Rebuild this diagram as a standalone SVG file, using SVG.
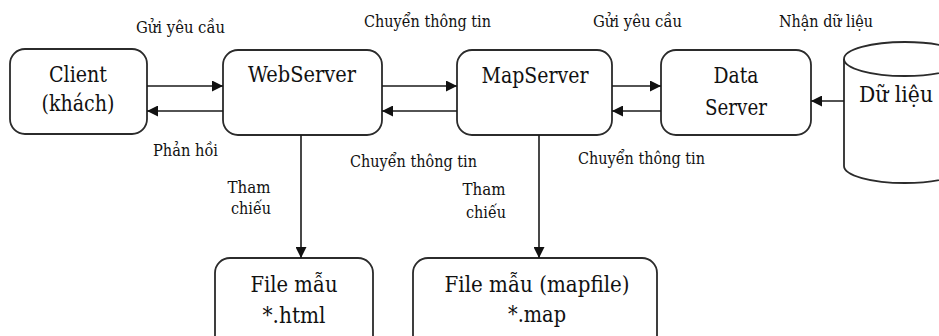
<svg xmlns="http://www.w3.org/2000/svg" width="939" height="336" viewBox="0 0 939 336">
  <style>
    .box { fill: #ffffff; stroke: #2b2b2b; stroke-width: 1.8; }
    .big { font-family: 'DejaVu Serif', serif; font-size: 21.5px; fill: #111; text-anchor: middle; }
    .lbl { font-family: 'DejaVu Serif', serif; font-size: 16px; fill: #111; }
    .mid { text-anchor: middle; }
    .conn { stroke: #1a1a1a; stroke-width: 1.6; fill: none; marker-end: url(#head); }
  </style>
  <defs>
    <marker id="head" markerUnits="userSpaceOnUse" markerWidth="11" markerHeight="11" refX="11" refY="5.5" orient="auto">
      <path d="M0,0 L11,5.5 L0,11 Z" fill="#111"/>
    </marker>
  </defs>

  <rect width="939" height="336" fill="#ffffff"/>

  <!-- Nodes -->
  <g id="client">
    <rect class="box" x="10" y="49" width="137" height="85" rx="15"/>
    <text class="big" x="78" y="82" textLength="58" lengthAdjust="spacingAndGlyphs">Client</text>
    <text class="big" x="78" y="111" textLength="73" lengthAdjust="spacingAndGlyphs">(khách)</text>
  </g>

  <g id="webserver">
    <rect class="box" x="223" y="50" width="159" height="85" rx="15"/>
    <text class="big" x="302" y="82" textLength="108" lengthAdjust="spacingAndGlyphs">WebServer</text>
  </g>

  <g id="mapserver">
    <rect class="box" x="457" y="50" width="155" height="85" rx="15"/>
    <text class="big" x="535" y="83" textLength="107" lengthAdjust="spacingAndGlyphs">MapServer</text>
  </g>

  <g id="dataserver">
    <rect class="box" x="661" y="50" width="150" height="85" rx="15"/>
    <text class="big" x="736" y="83" textLength="45" lengthAdjust="spacingAndGlyphs">Data</text>
    <text class="big" x="736" y="115" textLength="62" lengthAdjust="spacingAndGlyphs">Server</text>
  </g>

  <g id="dulieu">
    <path class="box" d="M844,59 A61,17 0 0 1 966,59 L966,166 A61,17 0 0 1 844,166 Z"/>
    <path d="M844,59 A61,17 0 0 0 966,59" fill="none" stroke="#2b2b2b" stroke-width="1.8"/>
    <text class="big" x="896" y="102" textLength="74" lengthAdjust="spacingAndGlyphs">Dữ liệu</text>
  </g>

  <g id="filehtml">
    <rect class="box" x="215" y="258" width="158" height="100" rx="15"/>
    <text class="big" x="294" y="292" textLength="87" lengthAdjust="spacingAndGlyphs">File mẫu</text>
    <text class="big" x="294" y="323" textLength="63" lengthAdjust="spacingAndGlyphs">*.html</text>
  </g>

  <g id="filemap">
    <rect class="box" x="413" y="258" width="244" height="100" rx="15"/>
    <text class="big" x="537" y="292" textLength="185" lengthAdjust="spacingAndGlyphs">File mẫu (mapfile)</text>
    <text class="big" x="537" y="322" textLength="58" lengthAdjust="spacingAndGlyphs">*.map</text>
  </g>

  <!-- Connectors -->
  <g id="connectors">
    <line class="conn" x1="147" y1="86" x2="223" y2="86"/>
    <line class="conn" x1="223" y1="111" x2="147" y2="111"/>
    <line class="conn" x1="382" y1="86" x2="457" y2="86"/>
    <line class="conn" x1="457" y1="111" x2="382" y2="111"/>
    <line class="conn" x1="612" y1="86" x2="661" y2="86"/>
    <line class="conn" x1="661" y1="111" x2="612" y2="111"/>
    <line class="conn" x1="844" y1="101" x2="811" y2="101"/>
    <line class="conn" x1="301" y1="135" x2="301" y2="258"/>
    <line class="conn" x1="539" y1="135" x2="539" y2="258"/>
  </g>

  <!-- Connector labels -->
  <g id="labels">
    <text class="lbl" x="136" y="33" textLength="89" lengthAdjust="spacingAndGlyphs">Gửi yêu cầu</text>
    <text class="lbl" x="364" y="27" textLength="127" lengthAdjust="spacingAndGlyphs">Chuyển thông tin</text>
    <text class="lbl" x="593" y="27" textLength="89" lengthAdjust="spacingAndGlyphs">Gửi yêu cầu</text>
    <text class="lbl" x="779" y="27" textLength="94" lengthAdjust="spacingAndGlyphs">Nhận dữ liệu</text>
    <text class="lbl" x="153" y="156" textLength="65" lengthAdjust="spacingAndGlyphs">Phản hồi</text>
    <text class="lbl" x="350" y="167" textLength="127" lengthAdjust="spacingAndGlyphs">Chuyển thông tin</text>
    <text class="lbl" x="578" y="164" textLength="127" lengthAdjust="spacingAndGlyphs">Chuyển thông tin</text>
    <text class="lbl mid" x="249" y="193" textLength="43" lengthAdjust="spacingAndGlyphs">Tham</text>
    <text class="lbl mid" x="251" y="214" textLength="40" lengthAdjust="spacingAndGlyphs">chiếu</text>
    <text class="lbl mid" x="484" y="195" textLength="43" lengthAdjust="spacingAndGlyphs">Tham</text>
    <text class="lbl mid" x="486" y="218" textLength="40" lengthAdjust="spacingAndGlyphs">chiếu</text>
  </g>
</svg>
